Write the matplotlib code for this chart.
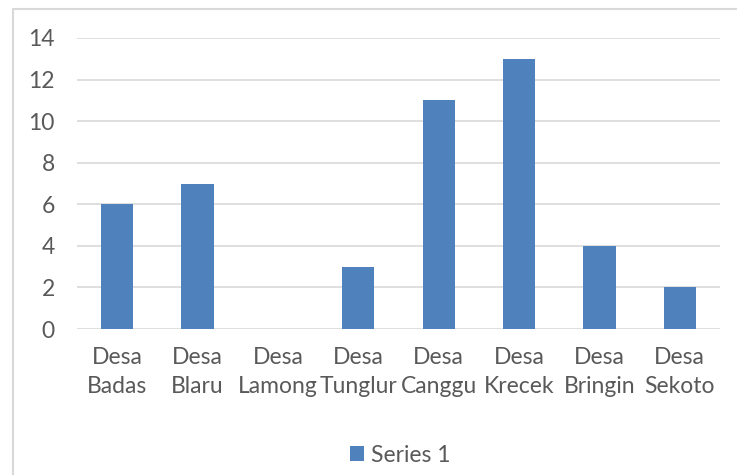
import numpy as np
import matplotlib.pyplot as plt
from matplotlib.patches import Rectangle

plt.rcParams['font.family'] = ['Lato', 'DejaVu Sans']

categories = ["Desa\nBadas", "Desa\nBlaru", "Desa\nLamong", "Desa\nTunglur",
              "Desa\nCanggu", "Desa\nKrecek", "Desa\nBringin", "Desa\nSekoto"]
series_1 = [6, 7, 0, 3, 11, 13, 4, 2]
yticks = [0, 2, 4, 6, 8, 10, 12, 14]

bar_color = "#4F81BD"
text_color = "#595959"
grid_color = "#D9D9D9"
fs = 16.5

W, H = 737, 475
fig = plt.figure(figsize=(W / 100, H / 100), dpi=100)
ax = fig.add_axes([77 / W, 1 - 329 / H, (720 - 77) / W, (329 - 38) / H])

x = np.arange(len(categories))
ax.bar(x, series_1, width=0.4, color=bar_color, label="Series 1", zorder=3)

ax.set_xlim(-0.5, len(categories) - 0.5)
ax.set_ylim(0, 14)
ax.set_yticks(yticks)
ax.set_xticks(x)
ax.set_xticklabels(categories, fontsize=fs, color=text_color, linespacing=1.45)
ax.tick_params(axis='y', labelsize=fs, colors=text_color, length=0, pad=16)
ax.tick_params(axis='x', length=0, pad=13)
ax.grid(axis='y', color=grid_color, linewidth=1.2, zorder=0)
for s in ax.spines.values():
    s.set_visible(False)

# outer chart frame
fig.patches.append(Rectangle((13 / W, -0.05), 1.0, 1 - 9 / H + 0.05,
                             transform=fig.transFigure, fill=False,
                             edgecolor="#D9D9D9", linewidth=1.5))

leg = fig.legend(loc='center', bbox_to_anchor=(400 / W, 1 - 455 / H), frameon=False,
                 fontsize=fs, handlelength=0.6, handleheight=0.6, handletextpad=0.3)
for t in leg.get_texts():
    t.set_color(text_color)

fig.savefig("out.png", dpi=100)
